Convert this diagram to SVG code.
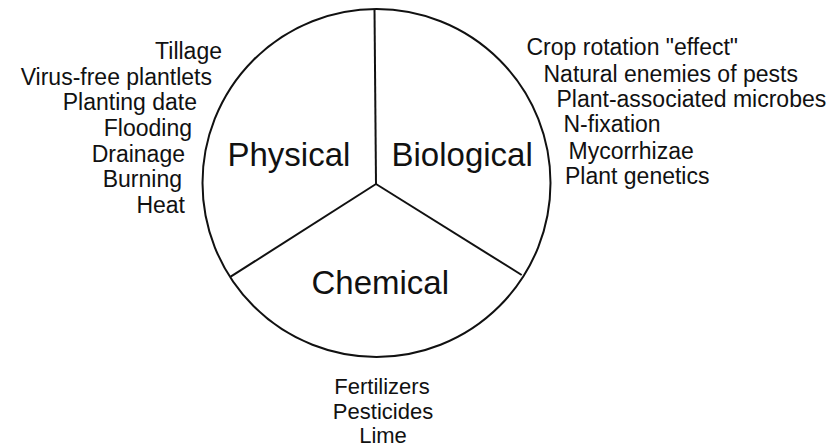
<svg xmlns="http://www.w3.org/2000/svg" width="839" height="448" viewBox="0 0 839 448">
<style>
.ln{fill:none;stroke:#111;stroke-width:2}
.big{font-family:"Liberation Sans",Arial,sans-serif;font-size:33px;fill:#111}
.sm{font-family:"Liberation Sans",Arial,sans-serif;font-size:23px;fill:#111}
.bt{font-size:22px}
.l{text-anchor:end}
.c{text-anchor:middle}
</style>
<rect width="839" height="448" fill="#fff"/>
<g id="connectors">
<circle class="ln" cx="376.5" cy="183" r="174"/>
<line class="ln" x1="374.5" y1="9" x2="376" y2="184"/>
<line class="ln" x1="376" y1="184" x2="230.7" y2="276.7"/>
<line class="ln" x1="376" y1="184" x2="521.7" y2="275"/>
</g>
<g id="physical">
<text class="big" x="227.5" y="166">Physical</text>
<g class="sm l">
<text x="222" y="59">Tillage</text>
<text x="212" y="85">Virus-free plantlets</text>
<text x="197" y="110">Planting date</text>
<text x="192" y="136">Flooding</text>
<text x="185" y="161.5">Drainage</text>
<text x="182" y="187">Burning</text>
<text x="185" y="213">Heat</text>
</g>
</g>
<g id="biological">
<text class="big" x="391.5" y="166">Biological</text>
<g class="sm">
<text x="526.5" y="55">Crop rotation "effect"</text>
<text x="543.5" y="81.5">Natural enemies of pests</text>
<text x="556.5" y="107">Plant-associated microbes</text>
<text x="563.5" y="132">N-fixation</text>
<text x="568.5" y="158.5">Mycorrhizae</text>
<text x="565" y="184">Plant genetics</text>
</g>
</g>
<g id="chemical">
<text class="big" x="311.5" y="293.5">Chemical</text>
<g class="sm bt c">
<text x="382" y="394">Fertilizers</text>
<text x="383" y="418.5">Pesticides</text>
<text x="383" y="443">Lime</text>
</g>
</g>
</svg>
